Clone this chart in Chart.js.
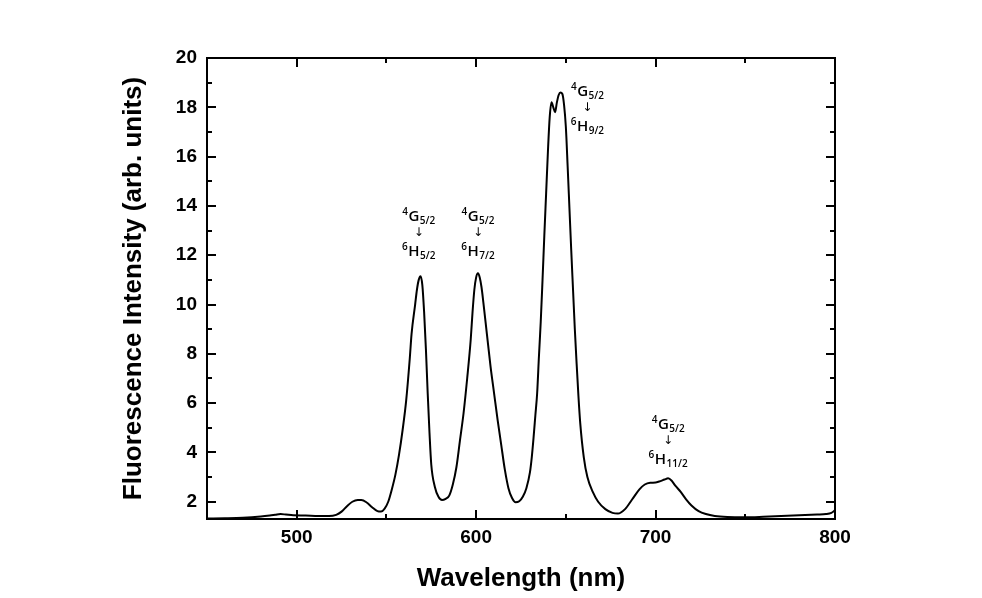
<!DOCTYPE html>
<html>
<head>
<meta charset="utf-8">
<script src="https://cdn.jsdelivr.net/npm/chart.js@4.4.1/dist/chart.umd.min.js"></script>
<style>
  html, body { margin: 0; padding: 0; background: #fff; }
  canvas { display: block; }
</style>
</head>
<body>
<canvas id="spectrum" width="982" height="598"></canvas>
<script>
// Emission spectrum (wavelength in nm, intensity in arb. units)
const wavelength = [
  450, 460, 470, 480, 485, 488, 491, 494, 498, 505, 512, 518, 522, 525, 528, 531, 534, 536, 539, 542,
  545, 547, 549, 551, 553, 555, 557, 559, 561, 563, 564, 566, 567, 568, 569, 570, 571, 572, 573, 574,
  575, 577, 579, 581, 583, 585, 587, 589, 591, 593, 595, 597, 598, 599, 600, 601, 602, 603, 604, 606,
  608, 610, 612, 614, 616, 618, 620, 622, 624, 626, 628, 630, 631, 632, 633, 634, 635, 636, 637, 638,
  639, 640, 641, 642, 643, 644, 645, 646, 647, 648, 649, 650, 651, 652, 653, 654, 655, 656, 657, 658,
  660, 662, 665, 668, 672, 676, 679, 683, 687, 691, 694, 697, 700, 702, 705, 707, 709, 711, 714, 717,
  720, 724, 728, 733, 740, 750, 760, 770, 780, 790, 795, 798, 800
];
const intensity = [
  1.32, 1.33, 1.35, 1.40, 1.44, 1.47, 1.50, 1.48, 1.45, 1.44, 1.42, 1.42, 1.47, 1.60, 1.82, 2.00, 2.07, 2.07, 1.97, 1.78,
  1.62, 1.60, 1.72, 2.00, 2.50, 3.10, 3.90, 4.90, 6.10, 7.80, 8.80, 10.0, 10.6, 11.0, 11.15, 10.8, 9.7, 8.2, 6.4, 4.8,
  3.50, 2.60, 2.20, 2.07, 2.12, 2.25, 2.70, 3.40, 4.50, 5.60, 7.00, 8.60, 9.70, 10.6, 11.1, 11.27, 11.1, 10.7, 10.1, 8.8,
  7.50, 6.40, 5.30, 4.30, 3.30, 2.55, 2.15, 1.98, 2.02, 2.20, 2.55, 3.20, 3.80, 4.60, 5.50, 6.40, 7.90, 9.30, 11.0, 12.8,
  14.5, 16.2, 17.6, 18.2, 18.0, 17.8, 18.2, 18.5, 18.6, 18.55, 18.1, 17.2, 15.6, 13.9, 12.2, 10.6, 9.0, 7.6, 6.3, 5.2,
  3.80, 3.00, 2.40, 2.00, 1.70, 1.55, 1.52, 1.70, 2.10, 2.50, 2.70, 2.77, 2.78, 2.82, 2.90, 2.95, 2.85, 2.65, 2.40, 2.10,
  1.85, 1.62, 1.50, 1.42, 1.38, 1.37, 1.39, 1.42, 1.45, 1.48, 1.50, 1.55, 1.65
];

const xTickValues = [500, 600, 700, 800];
const xMinorValues = [550, 650, 750];
const yTickValues = [2, 4, 6, 8, 10, 12, 14, 16, 18, 20];
const yMinorValues = [3, 5, 7, 9, 11, 13, 15, 17, 19];

// Transition labels  4G(upper) -> 6H(lower)
const labelX = [568, 601, 662, 707];
const labelY = [13.6, 13.6, 18.65, 5.15];
const upperJ = ['5/2', '5/2', '5/2', '5/2'];
const lowerJ = ['5/2', '7/2', '9/2', '11/2'];

const FONT = '"Liberation Sans", Arial, sans-serif';
const LABEL_FONT = '"Open Sans", "Noto Sans", sans-serif';

// inward ticks + closed frame
const frameTicks = {
  id: 'frameTicks',
  afterDraw(chart) {
    const { ctx, chartArea: a } = chart;
    const xs = chart.scales.x, ys = chart.scales.y;
    ctx.save();
    ctx.strokeStyle = '#000';
    ctx.lineWidth = 2;
    ctx.strokeRect(a.left, a.top, a.right - a.left, a.bottom - a.top);
    ctx.beginPath();
    const xt = (vals, len) => vals.forEach(v => {
      const p = Math.round(xs.getPixelForValue(v));
      ctx.moveTo(p, a.bottom); ctx.lineTo(p, a.bottom - len);
      ctx.moveTo(p, a.top); ctx.lineTo(p, a.top + len);
    });
    const yt = (vals, len) => vals.forEach(v => {
      const p = Math.round(ys.getPixelForValue(v));
      ctx.moveTo(a.left, p); ctx.lineTo(a.left + len, p);
      ctx.moveTo(a.right, p); ctx.lineTo(a.right - len, p);
    });
    xt(xTickValues, 9); xt(xMinorValues, 5);
    yt(yTickValues, 9); yt(yMinorValues, 5);
    ctx.stroke();
    ctx.restore();
  }
};

const transitionLabels = {
  id: 'transitionLabels',
  afterDatasetsDraw(chart) {
    const { ctx } = chart;
    const xs = chart.scales.x, ys = chart.scales.y;
    const main = '600 15px ' + LABEL_FONT, small = '600 10px ' + LABEL_FONT;

    const term = (cx, cy, sup, letter, sub) => {
      ctx.font = small; const wSup = ctx.measureText(sup).width;
      const wSub = ctx.measureText(sub).width;
      ctx.font = main; const wL = ctx.measureText(letter).width;
      let x = cx - (wSup + wL + wSub + 1) / 2;
      ctx.textBaseline = 'alphabetic';
      ctx.textAlign = 'left';
      ctx.font = small; ctx.fillText(sup, x, cy - 1); x += wSup;
      ctx.font = main; ctx.fillText(letter, x + 0.5, cy + 5); x += wL + 1;
      ctx.font = small; ctx.fillText(sub, x, cy + 8);
    };

    ctx.save();
    ctx.fillStyle = '#000';
    labelX.forEach((lx, i) => {
      const cx = xs.getPixelForValue(lx);
      const cy = ys.getPixelForValue(labelY[i]);
      term(cx, cy, '4', 'G', upperJ[i]);
      ctx.font = '12px "DejaVu Sans", sans-serif';
      ctx.textAlign = 'center';
      ctx.textBaseline = 'middle';
      ctx.fillText('\u2193', cx, cy + 17);
      term(cx, cy + 35, '6', 'H', lowerJ[i]);
    });
    ctx.restore();
  }
};

new Chart(document.getElementById('spectrum'), {
  type: 'line',
  data: {
    datasets: [{
      label: 'Fluorescence',
      data: wavelength.map((w, i) => ({ x: w, y: intensity[i] })),
      borderColor: '#000',
      borderWidth: 2,
      pointRadius: 0,
      fill: false,
      cubicInterpolationMode: 'monotone'
    }]
  },
  options: {
    responsive: false,
    animation: false,
    layout: { padding: { top: 58, right: 147, left: 110, bottom: 0 } },
    plugins: { legend: { display: false }, tooltip: { enabled: false } },
    scales: {
      x: {
        type: 'linear',
        min: 450,
        max: 800,
        afterBuildTicks: s => { s.ticks = xTickValues.map(v => ({ value: v })); },
        afterFit: s => { s.height = 79; },
        grid: { display: false, drawTicks: false },
        border: { display: false },
        ticks: {
          color: '#000',
          padding: 7,
          maxRotation: 0,
          font: { family: FONT, size: 19, weight: 'bold' }
        },
        title: {
          display: true,
          text: 'Wavelength (nm)',
          color: '#000',
          padding: { top: 6 },
          font: { family: FONT, size: 26, weight: 'bold' }
        }
      },
      y: {
        type: 'linear',
        min: 1.3,
        max: 20,
        afterBuildTicks: s => { s.ticks = yTickValues.map(v => ({ value: v })); },
        afterFit: s => { s.width = 97; },
        grid: { display: false, drawTicks: false },
        border: { display: false },
        ticks: {
          color: '#000',
          padding: 10,
          font: { family: FONT, size: 19, weight: 'bold' }
        },
        title: {
          display: true,
          text: 'Fluorescence Intensity (arb. units)',
          color: '#000',
          padding: { top: 8, bottom: 0 },
          font: { family: FONT, size: 26, weight: 'bold' }
        }
      }
    }
  },
  plugins: [frameTicks, transitionLabels]
});
</script>
</body>
</html>
